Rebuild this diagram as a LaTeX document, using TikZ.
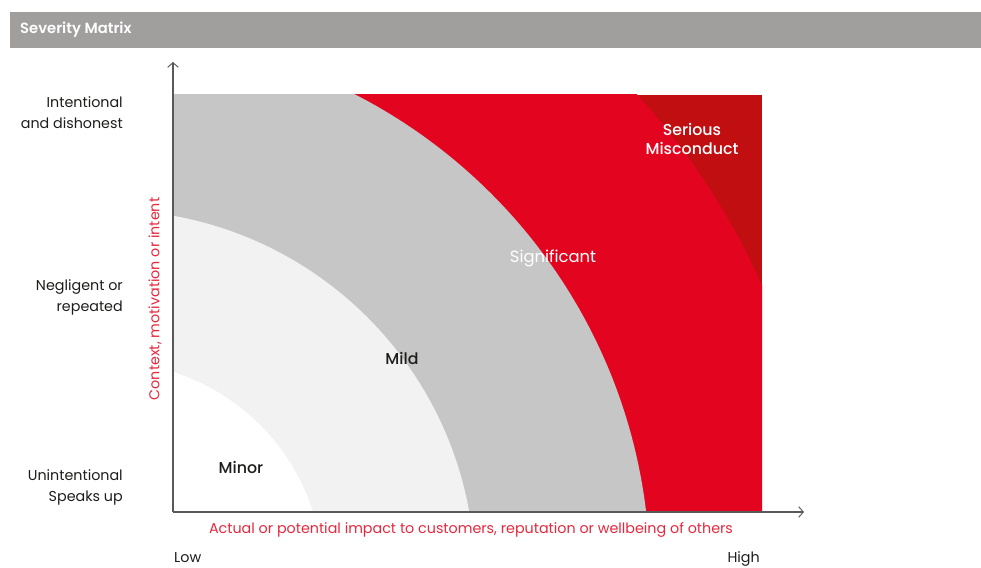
\documentclass[tikz,border=0pt]{standalone}
\usepackage{fontspec}
\setmainfont{Poppins}[BoldFont={* Medium}]
\newfontface\headfont{Poppins SemiBold}
\usetikzlibrary{positioning,arrows.meta}
\definecolor{sevhead}{HTML}{A09F9E}
\definecolor{sevred}{HTML}{E3051F}
\definecolor{sevdark}{HTML}{C00E11}
\definecolor{sevgray}{HTML}{C6C6C6}
\definecolor{sevlight}{HTML}{F2F2F2}
\definecolor{sevtext}{HTML}{1D1D1B}
\definecolor{sevaxis}{HTML}{E6283D}

\begin{document}
\begin{tikzpicture}[x=0.03cm,y=-0.03cm,
      level/.style={font=\fontsize{12.2}{18}\selectfont,text=sevtext,align=right,anchor=east,inner sep=0pt},
      zone/.style={font=\fontsize{13.5}{15.5}\selectfont\bfseries,align=center},
      axislabel/.style={font=\fontsize{12.2}{14}\selectfont,text=sevaxis},
      axisline/.style={draw=black!65,line width=1.2pt,-{Straight Barb[length=4pt,width=9pt,line width=0.8pt]}}]
    \useasboundingbox (0,0) rectangle (981,568);
    % header
    \fill[sevhead] (10,12) rectangle (981,48);
    \node[anchor=west,inner sep=0pt,text=white,font=\fontsize{12.6}{14}\headfont] (title) at (20,30) {Severity Matrix};
    % zones, all centred low left of the corner
    \begin{scope}
      \clip (173,95) rectangle (762,512);
      \fill[sevdark] (173,95) rectangle (762,512);
      \fill[sevred] (108,577) circle (716);
      \fill[sevgray] (108,577) circle (542);
      \fill[sevlight] (108,577) circle (367);
      \fill[white] (108,577) circle (215);
    \end{scope}
    \node[zone,text=white] (serious) at (692,139) {Serious\\Misconduct};
    \node[zone,text=white,font=\fontsize{14}{16}\selectfont] (significant) at (553,258) {Significant};
    \node[zone,text=sevtext] (mild) at (402,358) {Mild};
    \node[zone,text=sevtext] (minor) at (241,467) {Minor};
    % axes
    \coordinate (origin) at (173,512);
    \coordinate (ytip) at (173,62);
    \coordinate (xtip) at (804,512);
    \draw[axisline] (origin) -- (ytip);
    \draw[axisline] (origin) -- (xtip);
    \node[axislabel,rotate=90] (ylabel) at (155,299) {Context, motivation or intent};
    \node[axislabel] (xlabel) at (471,530) {Actual or potential impact to customers, reputation or wellbeing of others};
    % levels
    \node[level] (intent) at (123,113) {Intentional\\and dishonest};
    \node[level] (neglig) at (123,297) {Negligent or\\repeated};
    \node[level] (unint) at (123,487) {Unintentional\\Speaks up};
    \node[level,anchor=base west] (low) at (174,562) {Low};
    \node[level,anchor=base east] (high) at (760,562) {High};
\end{tikzpicture}
\end{document}
